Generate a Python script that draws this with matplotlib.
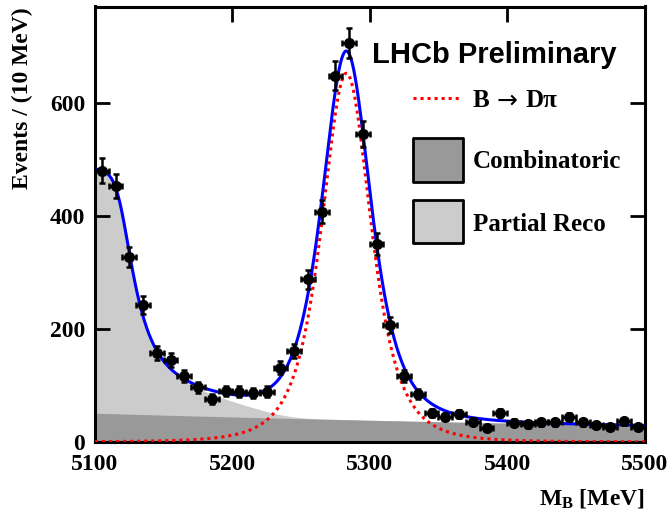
import numpy as np
import matplotlib
matplotlib.use("Agg")
import matplotlib.pyplot as plt
from matplotlib.patches import Rectangle
from matplotlib.lines import Line2D

# ---------------- data ----------------
bin_centers = np.arange(5105, 5500, 10)
counts = [480, 453, 327, 242, 157, 145, 117, 97, 76, 90,
          89, 87, 89, 131, 161, 288, 407, 648, 705, 545,
          350, 207, 116, 85, 52, 45, 50, 36, 25, 52,
          34, 31, 35, 35, 44, 35, 30, 27, 37, 27]
bin_half_width = 5.0

x_ticks = [5100, 5200, 5300, 5400, 5500]
y_ticks = [0, 200, 400, 600]

# fit-model parameters
sig_amp, sig_mean, sig_width, sig_nu = 652.0, 5283.0, 19.0, 3.0       # B -> D pi
comb_amp, comb_x0, comb_lambda = 51.0, 5100.0, 708.0                  # combinatoric
pr_edge_amp, pr_edge_pos, pr_edge_soft, pr_edge_tau = 372.0, 5119.0, 4.0, 13.5
pr_ramp_amp, pr_ramp_start, pr_ramp_end, pr_ramp_soft = 60.0, 5150.0, 5240.0, 9.0

# ---------------- style ----------------
plt.rcParams["mathtext.fontset"] = "custom"
plt.rcParams["mathtext.rm"] = "Liberation Serif:bold"
plt.rcParams["mathtext.bf"] = "Liberation Serif:bold"
plt.rcParams["mathtext.it"] = "Liberation Serif:bold:italic"
serif = ["Liberation Serif", "DejaVu Serif"]

W, H = 672, 514
fig = plt.figure(figsize=(W / 100, H / 100), dpi=100)
ax = fig.add_axes([95 / W, 1 - 442 / H, (644.5 - 95) / W, (442 - 6.5) / H])

# ---------------- model curves ----------------
xf = np.linspace(5100, 5500, 1601)
sig = sig_amp * (1 + (xf - sig_mean) ** 2 / (sig_nu * sig_width ** 2)) ** (-(sig_nu + 1) / 2)
comb = comb_amp * np.exp(-(xf - comb_x0) / comb_lambda)
pr_edge = pr_edge_amp * np.exp(-(pr_edge_soft / pr_edge_tau) *
                               np.logaddexp(0, (xf - pr_edge_pos) / pr_edge_soft))
pr_ramp = pr_ramp_amp * pr_ramp_soft / (pr_ramp_end - pr_ramp_start) * (
    np.logaddexp(0, (pr_ramp_end - xf) / pr_ramp_soft)
    - np.logaddexp(0, (pr_ramp_start - xf) / pr_ramp_soft))
pr = pr_edge + pr_ramp
total = comb + pr + sig

ax.fill_between(xf, 0, comb + pr, color="#cccccc", lw=0, zorder=1)
ax.fill_between(xf, 0, comb, color="#999999", lw=0, zorder=2)
ax.plot(xf, sig, color="#ff0000", lw=2.2, ls=(0, (1, 1.3)), zorder=3)
ax.plot(xf, total, color="#0000ff", lw=2.2, zorder=4)

cnt = np.array(counts, dtype=float)
ax.errorbar(bin_centers, cnt, yerr=np.sqrt(cnt), xerr=bin_half_width,
            fmt="o", ms=7, color="black", ecolor="black",
            elinewidth=1.8, capsize=2.5, capthick=1.8, zorder=5)

ax.set_xlim(5100, 5500)
ax.set_ylim(0, 770)
ax.set_xticks(x_ticks)
ax.set_yticks(y_ticks)
ax.tick_params(which="both", direction="in", top=True, right=True,
               length=11, width=2, labelsize=17, pad=7)
ax.tick_params(axis="x", pad=9)
for lab in ax.get_xticklabels() + ax.get_yticklabels():
    lab.set_family(serif)
    lab.set_fontweight("bold")
for s in ax.spines.values():
    s.set_linewidth(2.2)

# ---------------- labels ----------------
fig.text(22 / W, 1 - 7 / H, "Events / (10 MeV)", rotation=90, ha="center", va="top",
         fontsize=17, fontweight="bold", family=serif)
fig.text(645 / W, 1 - 505 / H, r"$\mathrm{M_{B}}$ [MeV]", ha="right", va="baseline",
         fontsize=17, fontweight="bold", family=serif)

fig.text(372 / W, 1 - 63 / H, "LHCb Preliminary", ha="left", va="baseline",
         fontsize=21, fontweight="bold", family=["Liberation Sans", "DejaVu Sans"])

# legend
fig.add_artist(Line2D([413 / W, 462 / W], [1 - 98 / H, 1 - 98 / H],
                      color="#ff0000", lw=2.2, ls=(0, (1, 1.3)),
                      transform=fig.transFigure))
fig.text(473 / W, 1 - 107 / H, "B", ha="left", va="baseline",
         fontsize=18, fontweight="bold", family=serif)
fig.text(507 / W, 1 - 101 / H, "\u2192", ha="center", va="center",
         fontsize=18, family=["DejaVu Sans"])
fig.text(526 / W, 1 - 107 / H, "D\u03c0", ha="left", va="baseline",
         fontsize=18, fontweight="bold", family=serif)
fig.add_artist(Rectangle((413 / W, 1 - 182 / H), 50 / W, 44 / H, transform=fig.transFigure,
                         facecolor="#999999", edgecolor="black", lw=2, joinstyle="round"))
fig.text(473 / W, 1 - 168 / H, "Combinatoric", ha="left", va="baseline",
         fontsize=18, fontweight="bold", family=serif)
fig.add_artist(Rectangle((413 / W, 1 - 243 / H), 50 / W, 43 / H, transform=fig.transFigure,
                         facecolor="#cccccc", edgecolor="black", lw=2, joinstyle="round"))
fig.text(473 / W, 1 - 231 / H, "Partial Reco", ha="left", va="baseline",
         fontsize=18, fontweight="bold", family=serif)

fig.savefig("out.png", dpi=100)
